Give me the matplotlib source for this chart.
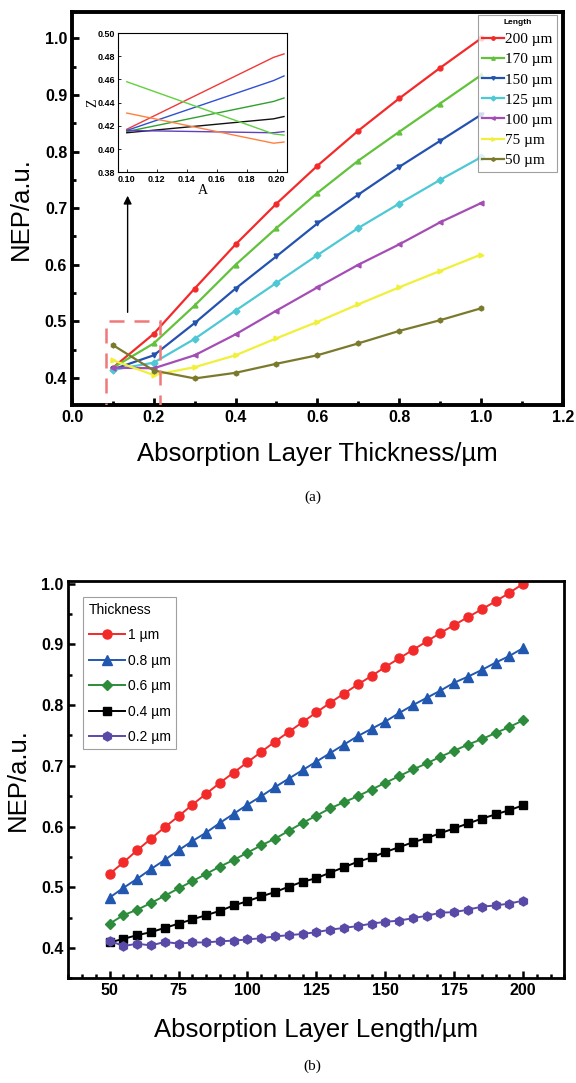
import matplotlib
matplotlib.use("Agg")
import matplotlib.pyplot as plt
import matplotlib.patches as patches
from matplotlib.ticker import MultipleLocator

plt.rcParams['font.family'] = ['Liberation Sans', 'DejaVu Sans']

# ---- panel (a): NEP vs absorption layer thickness ----
thick = [0.1, 0.2, 0.3, 0.4, 0.5, 0.6, 0.7, 0.8, 0.9, 1.0]
len_labels = ['200 µm', '170 µm', '150 µm', '125 µm', '100 µm', '75 µm', '50 µm']
nep_a = [
    [0.418, 0.478, 0.558, 0.636, 0.708, 0.775, 0.837, 0.894, 0.948, 1.000],
    [0.418, 0.461, 0.528, 0.600, 0.665, 0.727, 0.784, 0.835, 0.885, 0.935],
    [0.415, 0.440, 0.497, 0.558, 0.615, 0.673, 0.724, 0.773, 0.819, 0.865],
    [0.414, 0.427, 0.469, 0.519, 0.568, 0.617, 0.665, 0.708, 0.750, 0.790],
    [0.418, 0.417, 0.440, 0.477, 0.519, 0.560, 0.600, 0.636, 0.675, 0.709],
    [0.431, 0.405, 0.419, 0.440, 0.470, 0.499, 0.530, 0.560, 0.589, 0.618],
    [0.458, 0.413, 0.399, 0.409, 0.425, 0.440, 0.461, 0.483, 0.502, 0.523],
]
colors_a = ['#f42a2a', '#62c23c', '#2452b0', '#4ec8d4', '#a44db4', '#f0f03a', '#7b7a2c']
markers_a = ['o', '^', 'v', 'D', '<', '>', 'h']

# inset (zoom of the small-thickness region)
ins_x = [0.10, 0.198, 0.205]
ins_y = [
    [0.417, 0.479, 0.482],
    [0.416, 0.459, 0.463],
    [0.415, 0.441, 0.444],
    [0.414, 0.426, 0.428],
    [0.416, 0.414, 0.415],
    [0.458, 0.413, 0.412],
    [0.431, 0.405, 0.406],
]
ins_colors = ['#f03a3a', '#3050d0', '#30a030', '#111111', '#6040c0', '#60d040', '#ff8040']

# ---- panel (b): NEP vs absorption layer length ----
length = list(range(50, 201, 5))
thk_labels = ['1 µm', '0.8 µm', '0.6 µm', '0.4 µm', '0.2 µm']
nep_b = [
    [0.522, 0.541, 0.561, 0.580, 0.599, 0.617, 0.636, 0.654, 0.672, 0.689, 0.706,
     0.723, 0.740, 0.756, 0.772, 0.788, 0.804, 0.819, 0.834, 0.848, 0.863,
     0.877, 0.891, 0.905, 0.919, 0.932, 0.945, 0.958, 0.971, 0.985, 1.000],
    [0.483, 0.499, 0.514, 0.530, 0.545, 0.561, 0.576, 0.590, 0.606, 0.621, 0.636,
     0.650, 0.665, 0.679, 0.693, 0.707, 0.721, 0.735, 0.749, 0.761, 0.773,
     0.787, 0.800, 0.812, 0.824, 0.837, 0.847, 0.858, 0.870, 0.881, 0.894],
    [0.440, 0.454, 0.463, 0.474, 0.486, 0.498, 0.510, 0.522, 0.534, 0.545, 0.557,
     0.569, 0.580, 0.593, 0.606, 0.618, 0.630, 0.640, 0.650, 0.661, 0.672,
     0.683, 0.694, 0.704, 0.715, 0.725, 0.735, 0.744, 0.754, 0.764, 0.775],
    [0.409, 0.415, 0.421, 0.426, 0.433, 0.440, 0.447, 0.454, 0.461, 0.470, 0.477,
     0.485, 0.492, 0.501, 0.509, 0.515, 0.524, 0.533, 0.542, 0.549, 0.558,
     0.566, 0.574, 0.581, 0.589, 0.597, 0.605, 0.613, 0.620, 0.627, 0.635],
    [0.412, 0.403, 0.407, 0.404, 0.410, 0.407, 0.409, 0.409, 0.411, 0.412, 0.414,
     0.416, 0.419, 0.421, 0.423, 0.426, 0.430, 0.433, 0.436, 0.440, 0.443,
     0.445, 0.449, 0.453, 0.458, 0.459, 0.463, 0.468, 0.470, 0.473, 0.478],
]
colors_b = ['#f22a2a', '#2257b0', '#2d8c3c', '#000000', '#5a4aa8']
markers_b = ['o', '^', 'D', 's', 'h']
msize_b = [6.5, 7, 5.5, 5.5, 6.5]

fig = plt.figure(figsize=(5.76, 10.83), dpi=100)

# ================= (a) =================
ax1 = fig.add_axes([0.125, 0.626, 0.852, 0.363])
for i in range(len(nep_a)):
    ax1.plot(thick, nep_a[i], color=colors_a[i], marker=markers_a[i],
             markersize=3.5, lw=1.6, label=len_labels[i])
ax1.set_xlim(0, 1.2)
ax1.set_ylim(0.352, 1.047)
ax1.xaxis.set_major_locator(MultipleLocator(0.2))
ax1.xaxis.set_minor_locator(MultipleLocator(0.1))
ax1.yaxis.set_major_locator(MultipleLocator(0.1))
ax1.yaxis.set_minor_locator(MultipleLocator(0.05))
ax1.set_yticks([0.4, 0.5, 0.6, 0.7, 0.8, 0.9, 1.0])
ax1.tick_params(which='both', direction='in', width=2, labelsize=11.5)
ax1.tick_params(which='major', length=5)
ax1.tick_params(which='minor', length=3)
for lab in ax1.get_xticklabels() + ax1.get_yticklabels():
    lab.set_fontweight('bold')
for sp in ax1.spines.values():
    sp.set_linewidth(2.8)
ax1.set_xlabel('Absorption Layer Thickness/µm', fontsize=18.5)
ax1.set_ylabel('NEP/a.u.', fontsize=18.5)
ax1.xaxis.set_label_coords(0.5, -0.095)
ax1.yaxis.set_label_coords(-0.08, 0.5)

leg1 = ax1.legend(loc='upper right', bbox_to_anchor=(0.9885, 0.993),
                  prop={'family': 'Liberation Serif', 'size': 11},
                  title='Length', title_fontproperties={'weight': 'bold', 'size': 6},
                  handlelength=1.4, handletextpad=0.1, labelspacing=0.42,
                  borderpad=0.3, borderaxespad=0, fancybox=False,
                  edgecolor='#888888', markerscale=0.7)
leg1.get_frame().set_linewidth(0.8)

# dashed zoom box and arrow
box = patches.Rectangle((0.084, 0.35), 0.131, 0.15, fill=False,
                        edgecolor='#f07878', lw=1.8, ls=(0, (6, 4)), zorder=5)
ax1.add_patch(box)
ax1.annotate('', xy=(0.136, 0.727), xytext=(0.136, 0.511),
             arrowprops=dict(arrowstyle='-|>', color='black', lw=1.0,
                             mutation_scale=12))

# inset
axi = fig.add_axes([0.205, 0.841, 0.293, 0.1285])
for i in range(len(ins_y)):
    axi.plot(ins_x, ins_y[i], color=ins_colors[i], lw=1.0)
axi.set_xlim(0.0942, 0.2069)
axi.set_ylim(0.38, 0.50)
axi.set_xticks([0.10, 0.12, 0.14, 0.16, 0.18, 0.20])
axi.set_yticks([0.38, 0.40, 0.42, 0.44, 0.46, 0.48, 0.50])
axi.xaxis.set_major_formatter(plt.FormatStrFormatter('%.2f'))
axi.yaxis.set_major_formatter(plt.FormatStrFormatter('%.2f'))
axi.tick_params(direction='in', length=2, width=0.6, labelsize=6.5, pad=2)
for lab in axi.get_xticklabels() + axi.get_yticklabels():
    lab.set_fontweight('bold')
for sp in axi.spines.values():
    sp.set_linewidth(0.8)
axi.set_xlabel('A', family='Liberation Serif', fontsize=10, labelpad=0)
axi.set_ylabel('Z', family='Liberation Serif', fontsize=10, labelpad=-1)

fig.text(0.543, 1 - 497 / 1083, '(a)', family='Liberation Serif', fontsize=11,
         ha='center', va='center')

# ================= (b) =================
ax2 = fig.add_axes([0.1186, 0.0967, 0.8614, 0.3671])
for i in range(len(nep_b)):
    ax2.plot(length, nep_b[i], color=colors_b[i], marker=markers_b[i],
             markersize=msize_b[i], lw=1.4, label=thk_labels[i])
ax2.set_xlim(35, 215)
ax2.set_ylim(0.35, 1.005)
ax2.set_xticks([50, 75, 100, 125, 150, 175, 200])
ax2.xaxis.set_minor_locator(MultipleLocator(5))
ax2.set_yticks([0.4, 0.5, 0.6, 0.7, 0.8, 0.9, 1.0])
ax2.yaxis.set_minor_locator(MultipleLocator(0.05))
ax2.tick_params(which='both', direction='in', width=1.8, labelsize=11.5)
ax2.tick_params(which='major', length=5)
ax2.tick_params(which='minor', length=3)
for lab in ax2.get_xticklabels() + ax2.get_yticklabels():
    lab.set_fontweight('bold')
for sp in ax2.spines.values():
    sp.set_linewidth(2.0)
ax2.set_xlabel('Absorption Layer Length/µm', fontsize=18.5)
ax2.set_ylabel('NEP/a.u.', fontsize=18.5)
ax2.xaxis.set_label_coords(0.5, -0.1)
ax2.yaxis.set_label_coords(-0.077, 0.5)

leg2 = ax2.legend(loc='upper left', bbox_to_anchor=(0.03, 0.958),
                  fontsize=10, title='Thickness', title_fontsize=10,
                  handlelength=2.6, handletextpad=0.2, labelspacing=0.82,
                  borderpad=0.4, borderaxespad=0, fancybox=False,
                  edgecolor='#888888')
leg2._legend_box.align = 'left'
leg2.get_frame().set_linewidth(0.8)

fig.text(0.543, 1 - 1066 / 1083, '(b)', family='Liberation Serif', fontsize=11,
         ha='center', va='center')

fig.savefig('out.png', dpi=100)
